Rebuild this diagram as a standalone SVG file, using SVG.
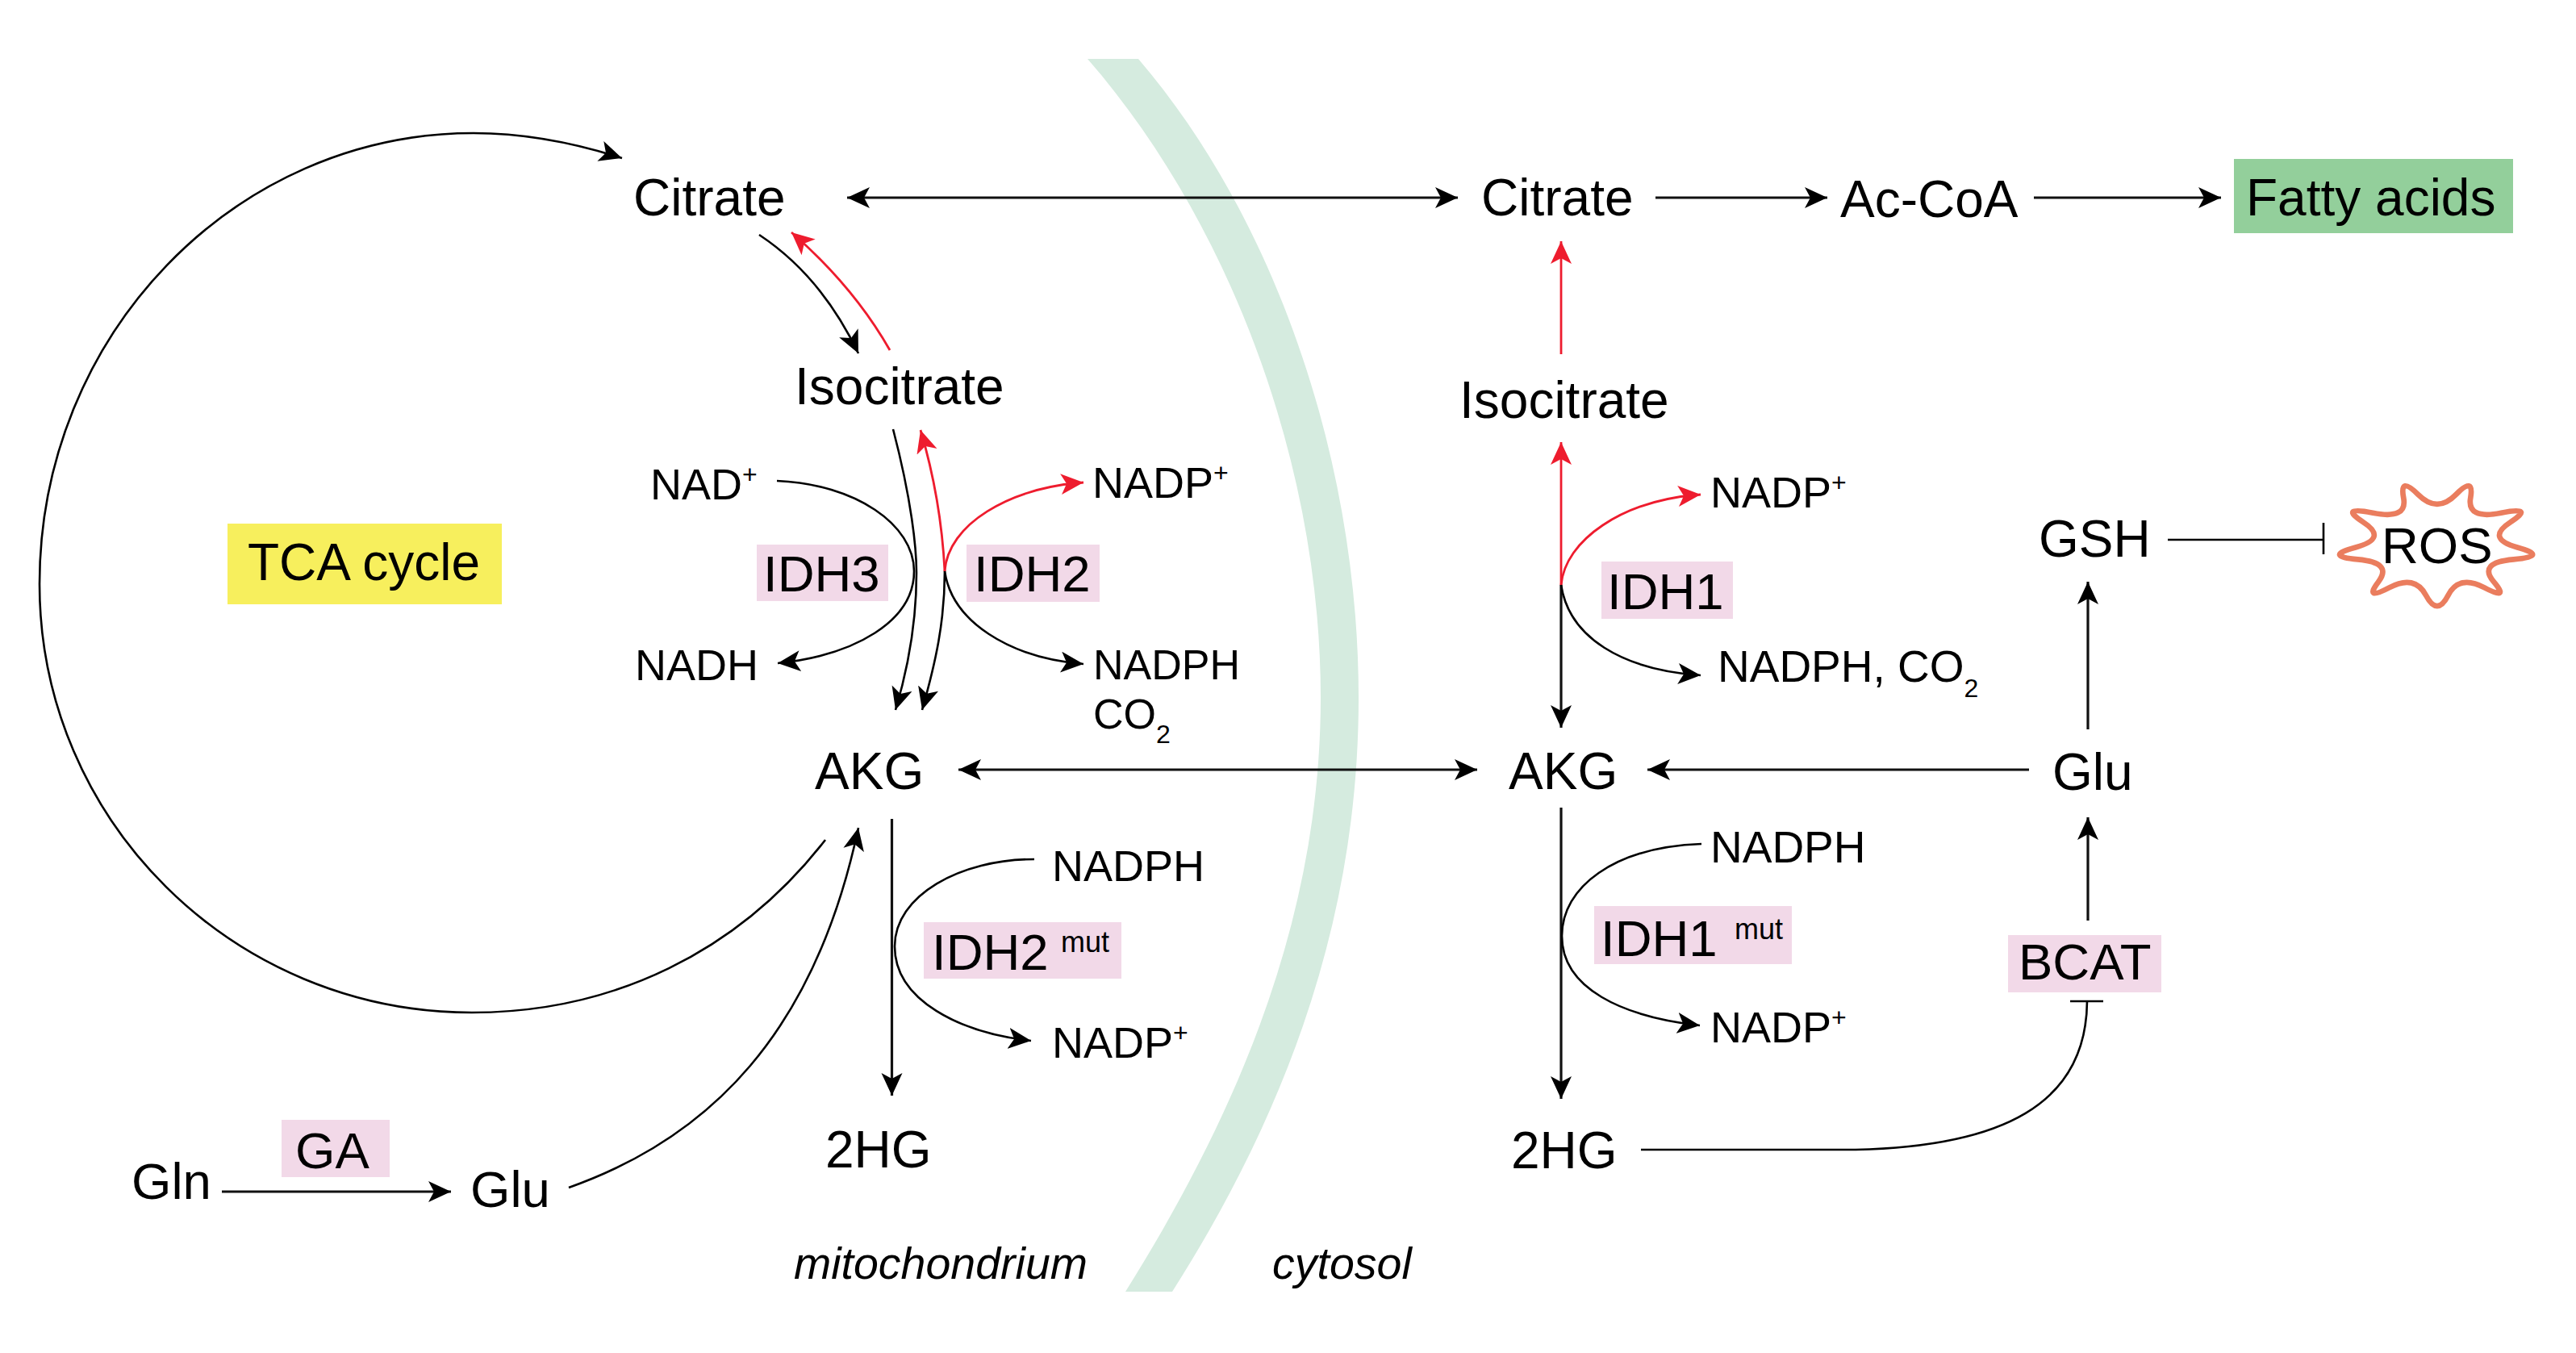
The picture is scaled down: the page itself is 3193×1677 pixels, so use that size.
<svg xmlns="http://www.w3.org/2000/svg" width="3193" height="1677" viewBox="0 0 3193 1677">
<style>
text{font-family:"Liberation Sans",Arial,sans-serif;fill:#000}
.m{font-size:64px}
.s{font-size:54px}
.e{font-size:63.500px}
.i{font-size:55.500px;font-style:italic}
.u{font-size:32px}
.p{font-size:36px}
.enz{fill:#f2d9e8}
.c{fill:none;stroke:#000;stroke-width:2.600}
.l{fill:none;stroke:#111;stroke-width:3.200}
.r{fill:none;stroke:#ee1c2e;stroke-width:2.800}
.a{marker-end:url(#ah)}
.d{marker-end:url(#ah);marker-start:url(#ah)}
.ar{marker-end:url(#ahr)}
</style>
<defs>
<marker id="ah" markerUnits="userSpaceOnUse" markerWidth="32" markerHeight="28" refX="28" refY="13" orient="auto-start-reverse"><path d="M0 0L28 13L0 26L7 13Z" fill="#000"/></marker>
<marker id="ahr" markerUnits="userSpaceOnUse" markerWidth="32" markerHeight="28" refX="28" refY="13" orient="auto-start-reverse"><path d="M0 0L28 13L0 26L7 13Z" fill="#ee1c2e"/></marker>
</defs>
<rect width="3193" height="1677" fill="#fff"/>
<path id="membrane" d="M1348 73C1520 270 1637 570 1637 865C1637 1130 1540 1370 1395 1601L1453 1601C1600 1370 1684 1130 1684 865C1684 570 1580 270 1411 73Z" fill="#d5ebdf"/>
<g id="connectors">
<path class="c a" d="M1023 1041C915 1180 760 1255 585 1255C289 1255 49 1017 49 724C49 415 291 165 587 165C650 165 715 178 771 196"/>
<path class="l d" d="M1050 245L1807 245"/>
<path class="l a" d="M2052 245L2265 245"/>
<path class="l a" d="M2521 245L2753 245"/>
<path class="c a" d="M941 291Q1018 342 1064 438"/>
<path class="r ar" d="M1103 434Q1058 355 981 288"/>
<path class="c a" d="M1107 532C1130 620 1136 680 1136 710C1136 770 1125 830 1110 880"/>
<path class="r ar" d="M1171 708C1168 650 1158 590 1141 533"/>
<path class="c a" d="M1171 708C1171 770 1160 820 1143 880"/>
<path class="c a" d="M963 596C1060 600 1133 650 1133 708C1133 770 1060 812 964 822"/>
<path class="r ar" d="M1171 708C1175 650 1250 605 1343 598"/>
<path class="c a" d="M1171 708C1180 770 1250 815 1343 823"/>
<path class="l d" d="M1188 954L1831 954"/>
<path class="l a" d="M2515 954L2042 954"/>
<path class="r ar" d="M1935 439L1935 299"/>
<path class="r ar" d="M1935 725L1935 548"/>
<path class="l a" d="M1935 725L1935 902"/>
<path class="r ar" d="M1935 725C1940 670 2010 620 2108 613"/>
<path class="c a" d="M1935 725C1945 790 2010 830 2108 837"/>
<path class="l a" d="M1105.500 1015L1105.500 1358"/>
<path class="c a" d="M1282 1065C1190 1065 1109 1110 1109 1173C1109 1240 1190 1280 1278 1290"/>
<path class="l a" d="M1935 1001L1935 1362"/>
<path class="c a" d="M2109 1046C2000 1050 1936 1100 1936 1160C1936 1225 2010 1260 2107 1271"/>
<path class="l a" d="M275 1477L559 1477"/>
<path class="c a" d="M705 1472C880 1410 1010 1280 1064 1026"/>
<path class="l a" d="M2588 904L2588 721"/>
<path class="l a" d="M2588 1141L2588 1013"/>
<path class="c" d="M2687 669L2880 669M2880 648L2880 687"/>
<path class="c" d="M2034 1425L2300 1425C2480 1421 2586 1370 2587 1241M2566 1241L2607 1241"/>
</g>
<g id="citrate-m"><text class="m" x="785" y="267">Citrate</text></g>
<g id="isocitrate-m"><text class="m" x="985" y="501">Isocitrate</text></g>
<g id="akg-m"><text class="m" x="1010" y="978">AKG</text></g>
<g id="hg-m"><text class="m" x="1023" y="1447">2HG</text></g>
<g id="gln"><text class="e" x="163" y="1486">Gln</text></g>
<g id="glu-m"><text class="e" x="583" y="1496">Glu</text></g>
<g id="citrate-c"><text class="m" x="1836" y="267">Citrate</text></g>
<g id="ac-coa"><text class="m" x="2281" y="269">Ac-CoA</text></g>
<g id="isocitrate-c"><text class="m" x="1809" y="518">Isocitrate</text></g>
<g id="akg-c"><text class="m" x="1870" y="978">AKG</text></g>
<g id="hg-c"><text class="m" x="1873" y="1448">2HG</text></g>
<g id="gsh"><text class="m" x="2527" y="690">GSH</text></g>
<g id="glu-c"><text class="m" x="2544" y="979">Glu</text></g>
<g id="nad"><text class="s" x="806" y="619">NAD<tspan class="u" dy="-20">+</tspan></text></g>
<g id="nadh"><text class="s" x="787" y="843">NADH</text></g>
<g id="nadp-m"><text class="s" x="1354" y="617">NADP<tspan class="u" dy="-20">+</tspan></text></g>
<g id="nadph-m"><text class="s" x="1355" y="842" style="font-size:52px">NADPH</text></g>
<g id="co2-m"><text class="s" x="1355" y="903" style="font-size:52px">CO<tspan class="u" dy="18">2</tspan></text></g>
<g id="nadph-mut-m"><text class="s" x="1304" y="1092">NADPH</text></g>
<g id="nadp-mut-m"><text class="s" x="1304" y="1311">NADP<tspan class="u" dy="-20">+</tspan></text></g>
<g id="nadp-c"><text class="s" x="2120" y="629">NADP<tspan class="u" dy="-20">+</tspan></text></g>
<g id="nadph-co2-c"><text class="s" x="2129" y="845" style="font-size:55px">NADPH, CO<tspan class="u" dy="19">2</tspan></text></g>
<g id="nadph-mut-c"><text class="s" x="2120" y="1069" style="font-size:55px">NADPH</text></g>
<g id="nadp-mut-c"><text class="s" x="2120" y="1292">NADP<tspan class="u" dy="-20">+</tspan></text></g>
<g id="idh3"><rect class="enz" x="938" y="675" width="163" height="70"/><text class="e" x="946" y="733">IDH3</text></g>
<g id="idh2"><rect class="enz" x="1198" y="675" width="165" height="71"/><text class="e" x="1207" y="733">IDH2</text></g>
<g id="idh1"><rect class="enz" x="1985" y="696" width="163" height="71"/><text class="e" x="1992" y="755">IDH1</text></g>
<g id="idh2mut"><rect class="enz" x="1145" y="1143" width="245" height="70"/><text class="e" x="1155" y="1202">IDH2</text><text class="p" x="1315" y="1180">mut</text></g>
<g id="idh1mut"><rect class="enz" x="1976" y="1123" width="245" height="72"/><text class="e" x="1984" y="1185">IDH1</text><text class="p" x="2150" y="1164">mut</text></g>
<g id="ga"><rect class="enz" x="349" y="1388" width="134" height="71"/><text class="e" x="366" y="1448">GA</text></g>
<g id="bcat"><rect class="enz" x="2489" y="1159" width="190" height="71"/><text class="e" x="2502" y="1214">BCAT</text></g>
<g id="tca"><rect x="282" y="649" width="340" height="100" fill="#f7ef5d"/><text class="m" x="307" y="719">TCA cycle</text></g>
<g id="fatty-acids"><rect x="2769" y="197" width="346" height="92" fill="#93cf9b"/><text class="m" x="2784" y="267">Fatty acids</text></g>
<g id="ros"><path transform="translate(3021 677) scale(.96) translate(-3020 -675)" d="M2976.500 612.500Q2971 584 2995.500 608.500Q3020 633 3044 608.500Q3068 584 3063 612.500Q3058 641 3102.500 632Q3147 623 3114.500 644Q3082 665 3123.500 676.500Q3165 688 3118.500 692Q3072 696 3093 721Q3114 746 3081 728.500Q3048 711 3034 738.500Q3020 766 3005.500 738.500Q2991 711 2958 728.500Q2925 746 2944 721Q2963 696 2917.500 692Q2872 688 2914.500 676.500Q2957 665 2924.500 644Q2892 623 2937 632Q2982 641 2976.500 612.500Z" fill="none" stroke="#ea7d5e" stroke-width="7"/><text class="e" x="2952" y="698">ROS</text></g>
<text class="i" x="984" y="1585">mitochondrium</text>
<text class="i" x="1577" y="1585">cytosol</text>
</svg>
